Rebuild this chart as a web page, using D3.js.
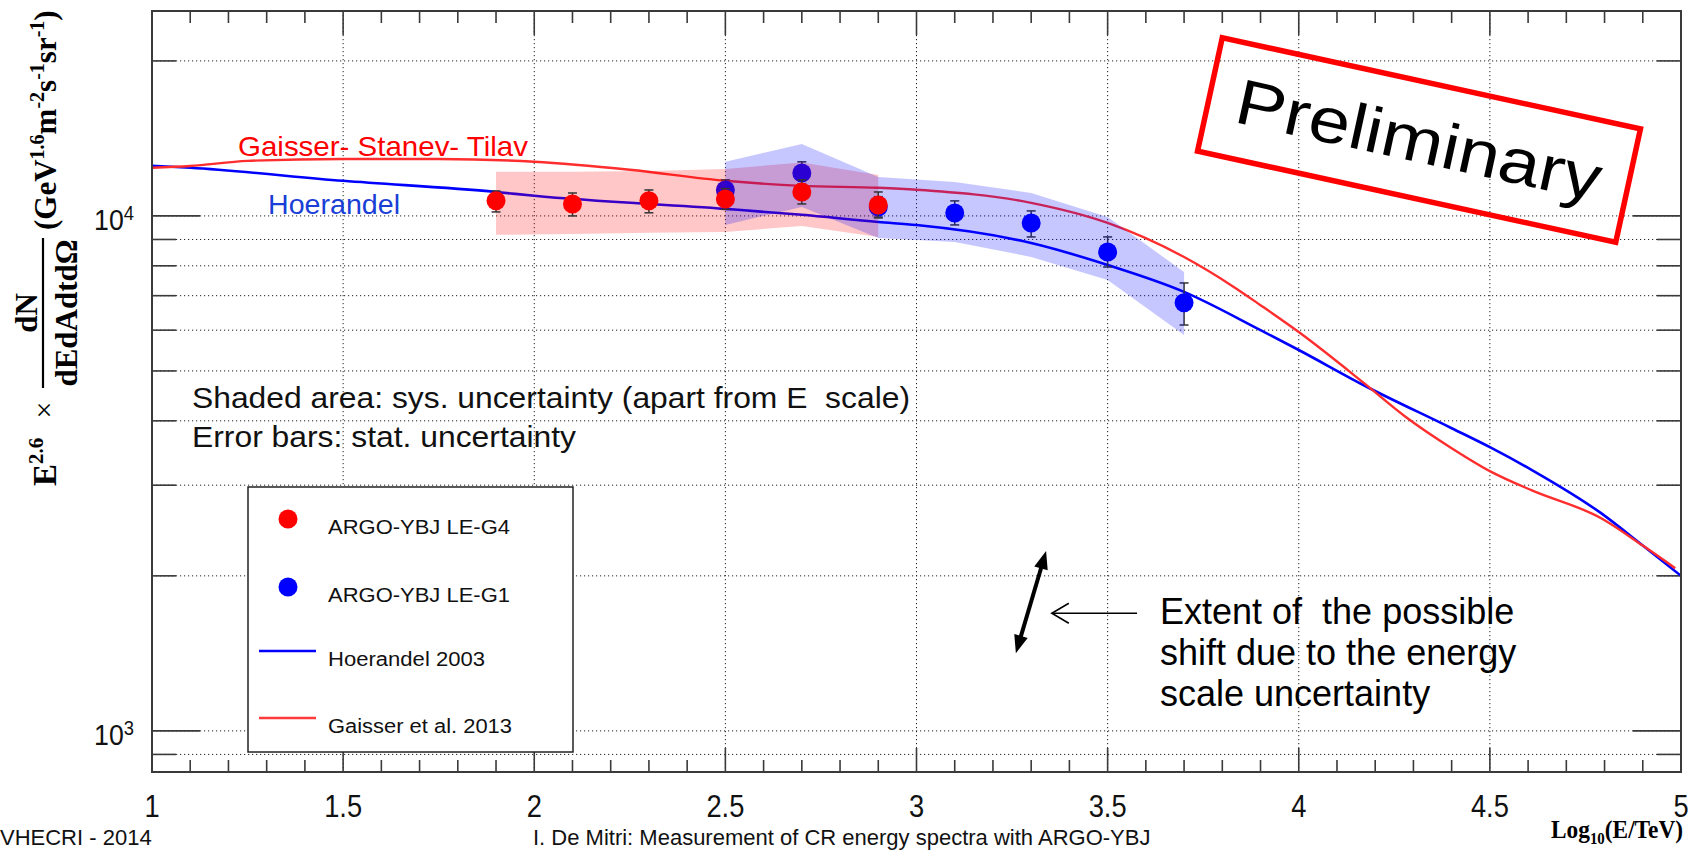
<!DOCTYPE html>
<html><head><meta charset="utf-8">
<script src="https://cdn.jsdelivr.net/npm/d3@7"></script>
<style>
body{margin:0;background:#fff;overflow:hidden}
svg{display:block}
text{white-space:pre}
</style></head><body>
<svg id="c" width="1695" height="851"></svg>
<script>
// ---------------- data ----------------
const xTickValues = [1, 1.5, 2, 2.5, 3, 3.5, 4, 4.5, 5];
const xTickLabels = ["1", "1.5", "2", "2.5", "3", "3.5", "4", "4.5", "5"];
const yMajorTicks = [1000, 10000];
const yMajorExp = ["3", "4"];
const yMinorTicks = [900, 2000, 3000, 4000, 5000, 6000, 7000, 8000, 9000, 20000];

// ARGO-YBJ LE-G4 (red)
const g4X     = [1.9, 2.1, 2.3, 2.5, 2.7, 2.9];
const g4Y     = [10700, 10550, 10700, 10790, 11130, 10500];
const g4StatHi= [11180, 11080, 11230, 11300, 11750, 11130];
const g4StatLo= [10180, 10000, 10140, 10300, 10550, 9910];
const g4SysHi = [12180, 12180, 12230, 12340, 12700, 12010];
const g4SysLo = [9190, 9225, 9270, 9310, 9560, 9100];

// ARGO-YBJ LE-G1 (blue)
const g1X     = [2.5, 2.7, 2.9, 3.1, 3.3, 3.5, 3.7];
const g1Y     = [11230, 12120, 10410, 10135, 9690, 8510, 6780];
const g1StatHi= [11750, 12735, 10900, 10695, 10226, 9103, 7410];
const g1StatLo= [10730, 11540, 9950, 9605, 9103, 7958, 6140];
const g1SysHi = [12735, 13800, 11900, 11640, 11080, 9955, 7785];
const g1SysLo = [9605, 10410, 9060, 8900, 8325, 7510, 5872];

// Hoerandel 2003 model (blue line)
const hoerX = [1.0, 1.1, 1.5, 1.9, 2.0, 2.5, 2.7, 2.9, 3.0, 3.3, 3.5, 3.7, 3.9, 4.0, 4.17, 4.4, 4.505, 4.61, 4.79, 4.9, 5.0];
const hoerY = [12510, 12400, 11700, 11130, 10940, 10320, 10050, 9730, 9600, 8860, 8030, 7120, 6000, 5490, 4690, 3870, 3540, 3210, 2650, 2290, 2000];

// Gaisser et al. 2013 model (red line)
const gaisX = [1.0, 1.1, 1.25, 1.5, 1.75, 2.0, 2.25, 2.5, 2.7, 2.9, 3.0, 3.3, 3.5, 3.7, 3.83, 3.9, 4.0, 4.17, 4.28, 4.4, 4.505, 4.61, 4.79, 4.9, 4.985];
const gaisY = [12400, 12500, 12790, 12900, 12900, 12740, 12290, 11700, 11440, 11340, 11240, 10600, 9690, 8320, 7280, 6710, 5950, 4740, 4070, 3540, 3180, 2930, 2590, 2290, 2070];

const legendLabels = ["ARGO-YBJ LE-G4", "ARGO-YBJ LE-G1", "Hoerandel 2003", "Gaisser et al. 2013"];
const legendWidths = [182, 182, 157, 184];

// ---------------- layout ----------------
const svg = d3.select("#c");
const L = 152, R = 1681, T = 11, B = 772;
const x = d3.scaleLinear().domain([1, 5]).range([L, R]);
const y = d3.scaleLog().domain([832, 25000]).range([B, T]);

const RED = "#ff0000", BLUE = "#0000ff";
const SANS = "'Liberation Sans', Arial, Helvetica, sans-serif";
const SERIF = "'Liberation Serif', 'Times New Roman', serif";

svg.append("defs").append("clipPath").attr("id", "pc")
  .append("rect").attr("x", L).attr("y", T).attr("width", R - L).attr("height", B - T);

// grid
const grid = svg.append("g").attr("stroke", "#222").attr("stroke-width", 1).attr("stroke-dasharray", "1.2,2.8");
grid.selectAll("line.v").data(xTickValues.filter(v => v > 1 && v < 5)).join("line")
  .attr("x1", d => x(d)).attr("x2", d => x(d)).attr("y1", T).attr("y2", B);
grid.selectAll("line.h").data(yMajorTicks.concat(yMinorTicks)).join("line")
  .attr("x1", L).attr("x2", R).attr("y1", d => y(d)).attr("y2", d => y(d));

// ticks
const tickG = svg.append("g").attr("stroke", "#3a3a3a").attr("stroke-width", 1.6);
const xMinor = d3.range(11, 50).map(v => v / 10).filter(v => Math.abs(v * 2 - Math.round(v * 2)) > 1e-6);
[[B, -1], [T, 1]].forEach(([yy, dir]) => {
  tickG.selectAll(null).data(xTickValues).join("line")
    .attr("x1", d => x(d)).attr("x2", d => x(d)).attr("y1", yy).attr("y2", yy + dir * 24);
  tickG.selectAll(null).data(xMinor).join("line")
    .attr("x1", d => x(d)).attr("x2", d => x(d)).attr("y1", yy).attr("y2", yy + dir * 12);
});
[[L, 1], [R, -1]].forEach(([xx, dir]) => {
  tickG.selectAll(null).data(yMajorTicks).join("line")
    .attr("y1", d => y(d)).attr("y2", d => y(d)).attr("x1", xx).attr("x2", xx + dir * 48);
  tickG.selectAll(null).data(yMinorTicks).join("line")
    .attr("y1", d => y(d)).attr("y2", d => y(d)).attr("x1", xx).attr("x2", xx + dir * 24);
});

// tick labels (slightly condensed, as in the original)
svg.append("g").selectAll("text").data(xTickValues).join("text")
  .attr("transform", d => `translate(${x(d)},${B + 45}) scale(0.88,1)`).attr("text-anchor", "middle")
  .attr("font-family", SANS).attr("font-size", 31).attr("fill", "#111")
  .text((d, i) => xTickLabels[i]);
const yl = svg.append("g").selectAll("text").data(yMajorTicks).join("text")
  .attr("transform", d => `translate(134,${y(d) + 14}) scale(0.92,1)`).attr("text-anchor", "end")
  .attr("font-family", SANS).attr("font-size", 29).attr("fill", "#111");
yl.append("tspan").text("10");
yl.append("tspan").attr("font-size", 20).attr("dy", -10).text((d, i) => yMajorExp[i]);

// model curves
const plot = svg.append("g").attr("clip-path", "url(#pc)");
const line = d3.line().x(d => x(d[0])).y(d => y(d[1])).curve(d3.curveMonotoneX);
plot.append("path").datum(hoerX.map((v, i) => [v, hoerY[i]]))
  .attr("d", line).attr("fill", "none").attr("stroke", BLUE).attr("stroke-width", 2.6);
plot.append("path").datum(gaisX.map((v, i) => [v, gaisY[i]]))
  .attr("d", line).attr("fill", "none").attr("stroke", "#ff2e2e").attr("stroke-width", 2.4);

function drawPoints(xs, ys, lo, hi, color) {
  const g = plot.append("g");
  const data = xs.map((v, i) => ({x: v, y: ys[i], lo: lo[i], hi: hi[i]}));
  g.selectAll("line.e").data(data).join("line")
    .attr("x1", d => x(d.x)).attr("x2", d => x(d.x)).attr("y1", d => y(d.hi)).attr("y2", d => y(d.lo))
    .attr("stroke", "#333").attr("stroke-width", 1.5);
  ["hi", "lo"].forEach(k => {
    g.selectAll(null).data(data).join("line")
      .attr("x1", d => x(d.x) - 4.5).attr("x2", d => x(d.x) + 4.5)
      .attr("y1", d => y(d[k])).attr("y2", d => y(d[k]))
      .attr("stroke", "#333").attr("stroke-width", 1.5);
  });
  g.selectAll("circle").data(data).join("circle")
    .attr("cx", d => x(d.x)).attr("cy", d => y(d.y)).attr("r", 9.5).attr("fill", color);
}
function drawBand(xs, lo, hi, color) {
  const pts = xs.map((v, i) => [x(v), y(hi[i])]).concat(xs.map((v, i) => [x(v), y(lo[i])]).reverse());
  plot.append("path").attr("d", "M" + pts.map(p => p.join(",")).join("L") + "Z")
    .attr("fill", color).attr("fill-opacity", 0.22).attr("stroke", "none");
}
drawPoints(g1X, g1Y, g1StatLo, g1StatHi, BLUE);
drawBand(g4X, g4SysLo, g4SysHi, RED);
drawBand(g1X, g1SysLo, g1SysHi, BLUE);
drawPoints(g4X, g4Y, g4StatLo, g4StatHi, RED);

// frame
svg.append("rect").attr("x", L).attr("y", T).attr("width", R - L).attr("height", B - T)
  .attr("fill", "none").attr("stroke", "#3a3a3a").attr("stroke-width", 2);

// curve labels
svg.append("text").attr("x", 238).attr("y", 156).attr("font-family", SANS).attr("font-size", 28)
  .attr("fill", RED).attr("textLength", 290).attr("lengthAdjust", "spacingAndGlyphs").text("Gaisser- Stanev- Tilav");
svg.append("text").attr("x", 268).attr("y", 214).attr("font-family", SANS).attr("font-size", 27)
  .attr("fill", "#1a3fd6").attr("textLength", 132).attr("lengthAdjust", "spacingAndGlyphs").text("Hoerandel");

// notes
svg.append("text").attr("x", 192).attr("y", 408).attr("font-family", SANS).attr("font-size", 30)
  .attr("fill", "#111").attr("textLength", 718).attr("lengthAdjust", "spacingAndGlyphs")
  .text("Shaded area: sys. uncertainty (apart from E  scale)");
svg.append("text").attr("x", 192).attr("y", 447).attr("font-family", SANS).attr("font-size", 30)
  .attr("fill", "#111").attr("textLength", 384).attr("lengthAdjust", "spacingAndGlyphs")
  .text("Error bars: stat. uncertainty");

// legend
const lg = svg.append("g");
lg.append("rect").attr("x", 248).attr("y", 487).attr("width", 325).attr("height", 265)
  .attr("fill", "#fff").attr("stroke", "#222").attr("stroke-width", 1.5);
const legY = [519, 587, 651, 718];
lg.append("circle").attr("cx", 288).attr("cy", legY[0]).attr("r", 9.5).attr("fill", RED);
lg.append("circle").attr("cx", 288).attr("cy", legY[1]).attr("r", 9.5).attr("fill", BLUE);
lg.append("line").attr("x1", 259).attr("x2", 316).attr("y1", legY[2]).attr("y2", legY[2]).attr("stroke", BLUE).attr("stroke-width", 2.5);
lg.append("line").attr("x1", 259).attr("x2", 316).attr("y1", legY[3]).attr("y2", legY[3]).attr("stroke", "#ff3a3a").attr("stroke-width", 2.5);
lg.selectAll("text").data(legendLabels).join("text")
  .attr("x", 328).attr("y", (d, i) => legY[i] + 15).attr("font-family", SANS).attr("font-size", 20)
  .attr("textLength", (d, i) => legendWidths[i]).attr("lengthAdjust", "spacingAndGlyphs")
  .attr("fill", "#111").text(d => d);

// energy-scale arrows (placed in data coordinates)
const arrowTop = [3.339, 2234], arrowBot = [3.260, 1415];
const ann = svg.append("g");
const ax1 = x(arrowTop[0]), ay1 = y(arrowTop[1]), ax2 = x(arrowBot[0]), ay2 = y(arrowBot[1]);
const ang = Math.atan2(ay2 - ay1, ax2 - ax1);
function head(px, py, a, len, w) {
  const bx = px - len * Math.cos(a), by = py - len * Math.sin(a);
  const nx = -Math.sin(a) * w, ny = Math.cos(a) * w;
  return `M${px},${py}L${bx + nx},${by + ny}L${bx - nx},${by - ny}Z`;
}
ann.append("line").attr("x1", ax1 + 10 * Math.cos(ang)).attr("y1", ay1 + 10 * Math.sin(ang))
  .attr("x2", ax2 - 10 * Math.cos(ang)).attr("y2", ay2 - 10 * Math.sin(ang))
  .attr("stroke", "#000").attr("stroke-width", 4);
ann.append("path").attr("d", head(ax2, ay2, ang, 18, 7)).attr("fill", "#000");
ann.append("path").attr("d", head(ax1, ay1, ang + Math.PI, 18, 7)).attr("fill", "#000");

const thinY = 1692, thinX0 = 3.577, thinX1 = 3.354;
const ty = y(thinY);
ann.append("line").attr("x1", x(thinX0)).attr("x2", x(thinX1)).attr("y1", ty).attr("y2", ty)
  .attr("stroke", "#000").attr("stroke-width", 1.6);
ann.append("path").attr("d", `M${x(thinX1) + 17},${ty - 10}L${x(thinX1)},${ty}L${x(thinX1) + 17},${ty + 10}`)
  .attr("fill", "none").attr("stroke", "#000").attr("stroke-width", 1.6);

const extLines = ["Extent of  the possible", "shift due to the energy", "scale uncertainty"];
svg.append("g").selectAll("text").data(extLines).join("text")
  .attr("x", 1160).attr("y", (d, i) => 624 + i * 41).attr("font-family", SANS).attr("font-size", 36)
  .attr("fill", "#000").text(d => d);

// Preliminary stamp
const pre = svg.append("g").attr("transform", "translate(1419,140) rotate(12.3)");
pre.append("rect").attr("x", -214).attr("y", -58).attr("width", 428).attr("height", 116)
  .attr("fill", "none").attr("stroke", RED).attr("stroke-width", 5.5);
pre.append("text").attr("x", 0).attr("y", 22).attr("text-anchor", "middle")
  .attr("font-family", SANS).attr("font-size", 64).attr("fill", "#000")
  .attr("textLength", 372).attr("lengthAdjust", "spacingAndGlyphs").text("Preliminary");

// y axis title (rotated)
const yt = svg.append("g").attr("transform", "translate(56,486) rotate(-90)")
  .attr("font-family", SERIF).attr("font-weight", "bold").attr("fill", "#000");
const e = yt.append("text").attr("x", 0).attr("y", 0).attr("font-size", 33);
e.append("tspan").text("E");
e.append("tspan").attr("font-size", 21).attr("dy", -13).text("2.6");
yt.append("text").attr("x", 76).attr("y", -2).attr("text-anchor", "middle").attr("font-size", 30)
  .attr("font-weight", "normal").text("×");
yt.append("line").attr("x1", 98).attr("x2", 248).attr("y1", -13).attr("y2", -13).attr("stroke", "#000").attr("stroke-width", 2.2);
yt.append("text").attr("x", 173).attr("y", -19).attr("text-anchor", "middle").attr("font-size", 31).text("dN");
yt.append("text").attr("x", 173).attr("y", 21).attr("text-anchor", "middle").attr("font-size", 31).text("dEdAdtdΩ");
const u = yt.append("text").attr("x", 256).attr("y", 0).attr("font-size", 31);
u.append("tspan").text("(GeV");
u.append("tspan").attr("font-size", 20).attr("dy", -12).text("1.6");
u.append("tspan").attr("dy", 12).text("m");
u.append("tspan").attr("font-size", 20).attr("dy", -12).text("-2");
u.append("tspan").attr("dy", 12).text("s");
u.append("tspan").attr("font-size", 20).attr("dy", -12).text("-1");
u.append("tspan").attr("dy", 12).text("sr");
u.append("tspan").attr("font-size", 20).attr("dy", -12).text("-1");
u.append("tspan").attr("dy", 12).text(")");

// x axis title
const xt = svg.append("text").attr("x", 1683).attr("y", 838).attr("text-anchor", "end")
  .attr("font-family", SERIF).attr("font-weight", "bold").attr("font-size", 25).attr("fill", "#000")
  .attr("textLength", 132).attr("lengthAdjust", "spacingAndGlyphs");
xt.append("tspan").text("Log");
xt.append("tspan").attr("font-size", 16).attr("dy", 6).text("10");
xt.append("tspan").attr("dy", -6).text("(E/TeV)");

// footer
svg.append("text").attr("x", 0).attr("y", 845).attr("font-family", SANS).attr("font-size", 22)
  .attr("fill", "#111").text("VHECRI - 2014");
svg.append("text").attr("x", 533).attr("y", 845).attr("font-family", SANS).attr("font-size", 22)
  .attr("fill", "#111").text("I. De Mitri: Measurement of CR energy spectra with ARGO-YBJ");
</script>
</body></html>
